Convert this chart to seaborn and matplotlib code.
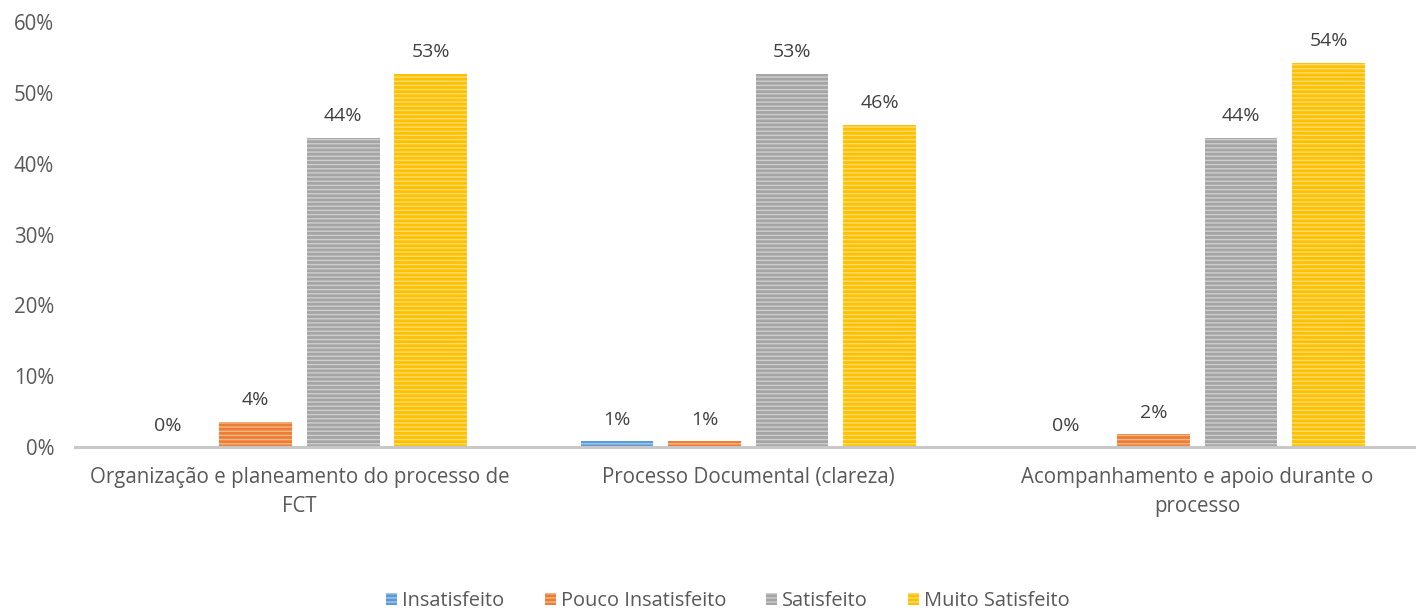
import pandas as pd
import matplotlib.pyplot as plt
import matplotlib.colors as mcolors
from matplotlib.patches import Patch
import seaborn as sns

# dados
categorias = ['Organização e planeamento do processo de\nFCT',
              'Processo Documental (clareza)',
              'Acompanhamento e apoio durante o\nprocesso']
niveis = ['Insatisfeito', 'Pouco Insatisfeito', 'Satisfeito', 'Muito Satisfeito']
insatisfeito = [0.0, 0.008, 0.0]
pouco_insatisfeito = [0.036, 0.008, 0.018]
satisfeito = [0.437, 0.527, 0.437]
muito_satisfeito = [0.527, 0.455, 0.543]
cores = ['#5B9BD5', '#ED7D31', '#A5A5A5', '#FFC000']

valores = [insatisfeito, pouco_insatisfeito, satisfeito, muito_satisfeito]
linhas = []
for nivel, serie in zip(niveis, valores):
    for cat, v in zip(categorias, serie):
        linhas.append({'categoria': cat, 'nivel': nivel, 'valor': v})
df = pd.DataFrame(linhas)

sns.set_style('white')
plt.rcParams['font.family'] = ['Open Sans', 'DejaVu Sans']
plt.rcParams['hatch.linewidth'] = 1.0

fig = plt.figure(figsize=(14.16, 6.15), dpi=100)
ax = fig.add_axes([0.053, 0.273, 0.951, 0.691])
sns.barplot(data=df, x='categoria', y='valor', hue='nivel', hue_order=niveis,
            palette=cores, width=0.78, gap=0.17, ax=ax, legend=False)

def clarear(c, f=0.45):
    r, g, b = mcolors.to_rgb(c)
    return (r + (1 - r) * f, g + (1 - g) * f, b + (1 - b) * f)

for cont, cor in zip(ax.containers, cores):
    for barra in cont:
        barra.set_facecolor(cor)
        barra.set_edgecolor(clarear(cor))
        barra.set_linewidth(0)
        barra.set_hatch('----')
    ax.bar_label(cont, labels=[f'{v:.0%}' for v in cont.datavalues],
                 padding=9, fontsize=14, color='#404040')

ax.set_ylim(0, 0.6)
ax.set_yticks([0, 0.1, 0.2, 0.3, 0.4, 0.5, 0.6])
ax.set_yticklabels([f'{int(t*100)}%' for t in ax.get_yticks()])
ax.set_xlim(-0.5, 2.5)
ax.set_xticks(range(len(categorias)))
ax.set_xticklabels(categorias, linespacing=1.55)
ax.set_xlabel('')
ax.set_ylabel('')
ax.tick_params(axis='both', length=0, labelsize=14.8, colors='#595959')
ax.tick_params(axis='y', pad=15)
ax.tick_params(axis='x', pad=14)
for s in ['top', 'right', 'left']:
    ax.spines[s].set_visible(False)
ax.spines['bottom'].set_color('#C8C8C8')
ax.spines['bottom'].set_linewidth(2.2)

handles = [Patch(facecolor=c, edgecolor=clarear(c), linewidth=0, hatch='----') for c in cores]
fig.legend(handles, niveis, loc='center', bbox_to_anchor=(0.514, 0.022), ncol=4,
           frameon=False, fontsize=14.4, handlelength=0.55, handleheight=0.55,
           handletextpad=0.25, columnspacing=2.0, labelcolor='#595959')

plt.savefig('out.png', dpi=100)
